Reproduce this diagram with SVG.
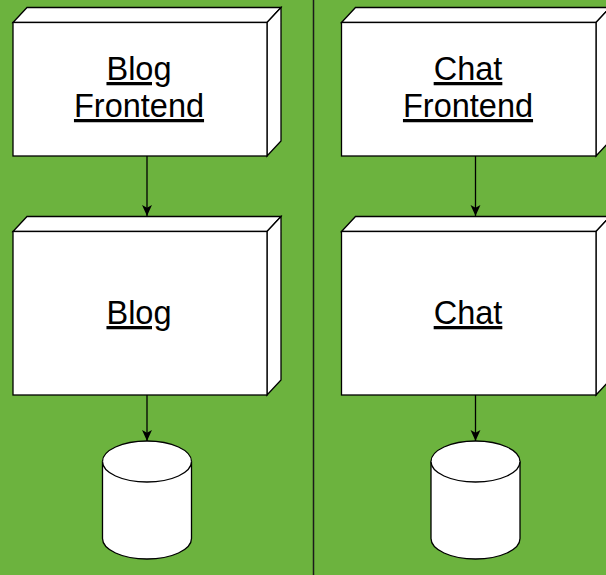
<svg xmlns="http://www.w3.org/2000/svg" width="606" height="575" viewBox="0 0 606 575">
<defs>
<style>
.face{fill:#ffffff;stroke:#000000;stroke-width:1.3;stroke-linejoin:miter}
.lbl{font-family:"Liberation Sans",Arial,sans-serif;font-size:32.5px;fill:#000000;text-anchor:middle;text-decoration:underline}
.conn{stroke:#000000;stroke-width:1.3;fill:none}
</style>
<marker id="arr" viewBox="0 0 10 10" refX="10" refY="5" markerWidth="11" markerHeight="11" markerUnits="userSpaceOnUse" orient="auto">
<path d="M0,0.5 L10,5 L0,9.5 L2.5,5 z" fill="#000000"/>
</marker>
</defs>
<rect x="0" y="0" width="606" height="575" fill="#6cb33e"/>
<line x1="313.5" y1="0" x2="313.5" y2="575" stroke="#1a1a1a" stroke-width="1.5"/>
<g id="blog-frontend">
<polygon class="face" points="13,22.5 27,7.5 281,7.5 267,22.5"/>
<polygon class="face" points="267,22.5 281,7.5 281,141 267,156"/>
<rect class="face" x="13" y="22.5" width="254" height="133.5"/>
<text class="lbl" x="139" y="80">Blog</text>
<text class="lbl" x="139" y="117">Frontend</text>
</g>
<g id="chat-frontend">
<polygon class="face" points="341.5,22.5 355.5,7.5 610,7.5 596,22.5"/>
<polygon class="face" points="596,22.5 610,7.5 610,141 596,156"/>
<rect class="face" x="341.5" y="22.5" width="254.5" height="133.5"/>
<text class="lbl" x="468" y="80">Chat</text>
<text class="lbl" x="468" y="117">Frontend</text>
</g>
<g id="blog">
<polygon class="face" points="13,231.5 27,216.5 281,216.5 267,231.5"/>
<polygon class="face" points="267,231.5 281,216.5 281,380 267,395"/>
<rect class="face" x="13" y="231.5" width="254" height="163.5"/>
<text class="lbl" x="139" y="324">Blog</text>
</g>
<g id="chat">
<polygon class="face" points="341.5,231.5 355.5,216.5 610,216.5 596,231.5"/>
<polygon class="face" points="596,231.5 610,216.5 610,380 596,395"/>
<rect class="face" x="341.5" y="231.5" width="254.5" height="163.5"/>
<text class="lbl" x="468" y="324">Chat</text>
</g>
<g id="blog-db">
<path class="face" d="M102.5,461.5 A44.5,20.5 0 0 1 191.5,461.5 L191.5,538.5 A44.5,20.5 0 0 1 102.5,538.5 Z"/>
<path class="face" d="M102.5,461.5 A44.5,20.5 0 0 0 191.5,461.5" fill="none"/>
</g>
<g id="chat-db">
<path class="face" d="M431,461.5 A44.5,20.5 0 0 1 520,461.5 L520,538.5 A44.5,20.5 0 0 1 431,538.5 Z"/>
<path class="face" d="M431,461.5 A44.5,20.5 0 0 0 520,461.5" fill="none"/>
</g>
<g id="connectors">
<line class="conn" x1="147" y1="156" x2="147" y2="216" marker-end="url(#arr)"/>
<line class="conn" x1="475.5" y1="156" x2="475.5" y2="216" marker-end="url(#arr)"/>
<line class="conn" x1="147" y1="395" x2="147" y2="441" marker-end="url(#arr)"/>
<line class="conn" x1="475.5" y1="395" x2="475.5" y2="441" marker-end="url(#arr)"/>
</g>
</svg>
